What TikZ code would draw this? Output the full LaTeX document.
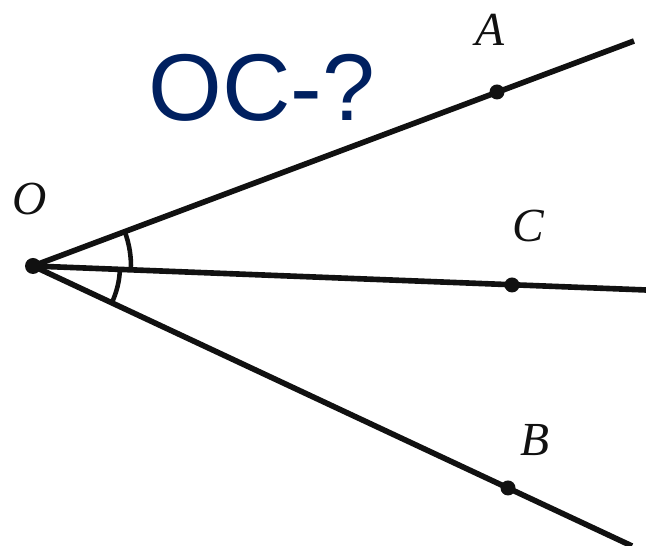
\documentclass[tikz,border=0pt]{standalone}
\usepackage{fontspec}
\setmainfont{Liberation Serif}
\newfontfamily\headfont{Liberation Sans}
\usetikzlibrary{calc}
\definecolor{navy}{HTML}{002060}
\definecolor{ink}{HTML}{111111}
\tikzset{
  ray/.style={ink,line width=3.2pt},
  dot/.style={ink},
  lbl/.style={text=ink,font=\fontsize{27}{30}\selectfont\itshape},
  anglemark/.style={ink,line width=2.6pt}
}

\begin{document}
\begin{tikzpicture}[x=0.02cm,y=0.02cm]
  \useasboundingbox (0,0) rectangle (646,546);
  % ----- points -----
  \coordinate (O) at (33,280);
  \coordinate (A) at (497,454);
  \coordinate (C) at (512,261);
  \coordinate (B) at (508,58);
  \coordinate (Aend) at (634,505);
  \coordinate (Cend) at (646,256);
  \coordinate (Bend) at (632,0);
  % rays
  \draw[ray] (O) -- (Aend);
  \draw[ray] (O) -- (Cend);
  \draw[ray] (O) -- (Bend);
  % angle marks
  \draw[anglemark] (O) ++(-2.3:1.96cm) arc[start angle=-2.3,end angle=20.6,radius=1.96cm];
  \draw[anglemark] (O) ++(-25.1:1.74cm) arc[start angle=-25.1,end angle=-2.3,radius=1.74cm];
  % dots
  \fill[dot] (O) circle (0.16cm);
  \foreach \p in {A,C,B}{
     \fill[dot] (\p) circle (0.15cm);}
  % ----- labels -----
  \node[lbl] (lblO) at (30,347){O};
  \node[lbl] (lblA) at (490,516){A};
  \node[lbl] (lblC) at (528,320){C};
  \node[lbl] (lblB) at (535,106){B};
  \node[text=navy,font=\headfont\fontsize{54}{60}\selectfont] (title) at (262,458){OC-?};
\end{tikzpicture}
\end{document}
